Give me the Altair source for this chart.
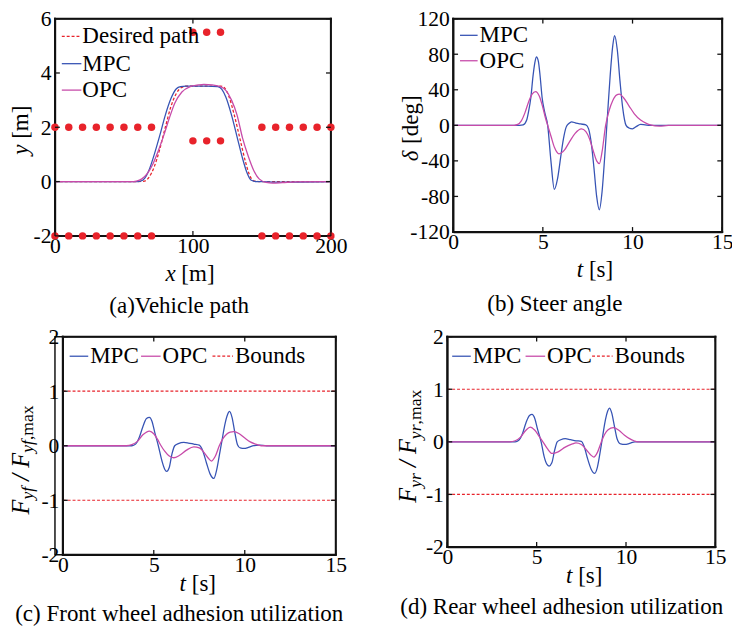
import altair as alt
import pandas as pd

SERIF = "Liberation Serif"
BLUE = "#3653b4"
MAG = "#c74aa9"
RED = "#e8232b"
FRAME = "#111111"
TXT = 23.5
TICK = 22

# ---------------- (a) Vehicle path ----------------
cone_side_x = [0, 10, 20, 30, 40, 50, 60, 70, 150, 160, 170, 180, 190, 200]
cone_side_upper_y = [2] * 14
cone_side_lower_y = [-2] * 14
cone_mid_x = [100, 110, 120]
cone_mid_upper_y = [5.5, 5.5, 5.5]
cone_mid_lower_y = [1.5, 1.5, 1.5]

desired_x = [0, 60, 65, 68, 72, 76, 80, 84, 88, 92, 96, 100, 120, 123, 126, 130, 134, 138, 141, 144, 150, 200]
desired_y = [0, 0, 0.02, 0.15, 0.55, 1.2, 2.0, 2.75, 3.25, 3.47, 3.52, 3.52, 3.52, 3.45, 3.15, 2.45, 1.6, 0.75, 0.25, 0.03, 0, 0]

mpc_path_x = [0, 58, 62, 65, 68, 72, 76, 80, 84, 88, 91, 95, 110, 118, 121, 124, 128, 132, 136, 139, 142, 146, 150, 160, 200]
mpc_path_y = [0, 0, 0.02, 0.12, 0.4, 1.0, 1.7, 2.45, 3.05, 3.42, 3.5, 3.52, 3.52, 3.5, 3.4, 3.1, 2.45, 1.65, 0.85, 0.35, 0.06, 0, 0, -0.02, 0]

opc_path_x = [0, 55, 59, 63, 67, 71, 75, 79, 83, 87, 92, 98, 104, 108, 114, 120, 124, 128, 132, 136, 140, 144, 148, 153, 158, 165, 175, 200]
opc_path_y = [0, 0, 0.02, 0.1, 0.3, 0.65, 1.15, 1.72, 2.35, 2.9, 3.3, 3.5, 3.56, 3.58, 3.56, 3.5, 3.35, 3.0, 2.45, 1.6, 0.95, 0.42, 0.1, -0.03, -0.06, -0.04, -0.01, 0]

# ---------------- (b) Steer angle ----------------
mpc_steer_t = [0, 3.7, 3.9, 4.1, 4.2, 4.33, 4.45, 4.55, 4.64, 4.75, 4.85, 4.96, 5.1, 5.27, 5.45, 5.64,
               5.82, 6.0, 6.15, 6.3, 6.45, 6.6, 6.85, 7.1, 7.4, 7.55, 7.7, 7.85, 8.0, 8.15, 8.3, 8.45,
               8.6, 8.75, 8.9, 9.0, 9.15, 9.3, 9.45, 9.64, 9.8, 10.0, 10.2, 10.45, 10.7, 11.0, 15]
mpc_steer_d = [0, 0, 0.5, 6, 15, 31, 55, 70, 77, 72, 55, 31, 15, 0, -40, -72,
               -60, -35, -15, -2, 2, 4, 2.5, 1.5, 0.5, -4, -20, -48, -80, -95, -75, -35,
               10, 55, 90, 101, 85, 50, 20, 0, -3, -4, -1.5, 1, 0.5, 0, 0]

opc_steer_t = [0, 3.4, 3.6, 3.8, 4.0, 4.2, 4.4, 4.6, 4.8, 5.0, 5.15, 5.27, 5.45, 5.65, 5.9, 6.2, 6.5,
               6.8, 7.15, 7.4, 7.6, 7.8, 8.0, 8.15, 8.3, 8.5, 8.7, 8.9, 9.1, 9.27, 9.5, 9.8, 10.1,
               10.45, 10.8, 11.0, 11.5, 12, 15]
opc_steer_d = [0, 0, 1, 5, 14, 26, 35, 38, 33, 20, 8, 0, -12, -25, -32, -28, -18,
               -9, -4, -7, -15, -28, -40, -43, -30, 0, 17, 28, 34, 35, 31, 22, 13,
               6, 2, 0.5, -1, 0, 0]

# ---------------- (c) Front wheel ----------------
mpc_front_t = [0, 3.8, 4.0, 4.2, 4.4, 4.6, 4.76, 4.9, 5.05, 5.25, 5.45, 5.6, 5.71, 5.85, 6.0, 6.15,
               6.35, 6.65, 6.9, 7.2, 7.5, 7.7, 7.9, 8.1, 8.3, 8.45, 8.6, 8.75, 8.9, 9.05, 9.16, 9.3,
               9.45, 9.6, 9.75, 9.97, 10.2, 10.5, 10.8, 11.2, 15]
mpc_front_v = [0, 0, 0.03, 0.15, 0.35, 0.5, 0.52, 0.45, 0.25, 0, -0.28, -0.43, -0.47, -0.4, -0.15, 0.0,
               0.04, 0.06, 0.05, 0.03, 0.01, -0.1, -0.32, -0.52, -0.6, -0.45, -0.18, 0.1, 0.38, 0.57, 0.63, 0.52,
               0.25, 0.02, -0.04, -0.05, -0.03, 0.0, 0.01, 0.0, 0]

opc_front_t = [0, 3.5, 3.8, 4.1, 4.4, 4.76, 5.0, 5.2, 5.4, 5.6, 5.85, 6.1, 6.4, 6.8, 7.2, 7.5, 7.8,
               8.0, 8.17, 8.4, 8.6, 8.8, 9.0, 9.2, 9.4, 9.7, 10.0, 10.3, 10.6, 10.9, 15]
opc_front_v = [0, 0, 0.02, 0.08, 0.2, 0.27, 0.22, 0.12, 0.0, -0.1, -0.19, -0.22, -0.18, -0.08, -0.02, -0.04, -0.14,
               -0.23, -0.28, -0.18, 0.0, 0.13, 0.21, 0.25, 0.26, 0.22, 0.14, 0.07, 0.03, 0.0, 0]

# ---------------- (d) Rear wheel ----------------
mpc_rear_t = [0, 3.8, 4.0, 4.2, 4.4, 4.6, 4.74, 4.9, 5.05, 5.25, 5.42, 5.58, 5.7, 5.85, 6.0, 6.15,
              6.35, 6.6, 6.9, 7.2, 7.5, 7.65, 7.85, 8.05, 8.25, 8.4, 8.55, 8.7, 8.85, 8.97, 9.07, 9.2,
              9.35, 9.5, 9.7, 9.93, 10.2, 10.5, 11.0, 15]
mpc_rear_v = [0, 0, 0.03, 0.15, 0.36, 0.5, 0.52, 0.44, 0.24, 0, -0.28, -0.43, -0.46, -0.4, -0.17, 0.0,
              0.04, 0.06, 0.04, 0.02, 0.01, -0.08, -0.32, -0.52, -0.6, -0.48, -0.2, 0.12, 0.42, 0.58, 0.64, 0.55,
              0.3, 0.06, -0.04, -0.05, -0.03, 0.0, 0.0, 0]

opc_rear_t = [0, 3.5, 3.8, 4.1, 4.4, 4.64, 4.9, 5.15, 5.35, 5.6, 5.86, 6.2, 6.6, 7.0, 7.2, 7.5, 7.8,
              8.0, 8.2, 8.4, 8.6, 8.8, 9.0, 9.29, 9.6, 9.9, 10.2, 10.45, 10.65, 15]
opc_rear_v = [0, 0, 0.02, 0.09, 0.22, 0.28, 0.22, 0.1, 0.0, -0.13, -0.22, -0.19, -0.1, -0.04, -0.02, -0.05, -0.16,
              -0.24, -0.29, -0.2, -0.02, 0.14, 0.23, 0.27, 0.22, 0.13, 0.06, 0.02, 0.0, 0]

bound_values = [1, -1]

# ---------------- helpers ----------------
ONE = alt.Data(values=[{"k": 1}])

REG = {" ": 0.25, "[": 0.333, "]": 0.333, "m": 0.778, "s": 0.389, "d": 0.5, "e": 0.444,
       "g": 0.5, "/": 0.278, ",": 0.25, "a": 0.444, "x": 0.5}
ITA = {"x": 0.444, "y": 0.444, "t": 0.278, "F": 0.611, "f": 0.278, "r": 0.389, "/": 0.278,
       "δ": 0.5, " ": 0.25}


def w(txt, size, italic):
    tab = ITA if italic else REG
    return sum(tab.get(c, 0.5) for c in txt) * size


def composed(pieces, cx, cy, angle=0):
    total = sum(w(t, s, it) for t, s, it, sub in pieces)
    off = -total / 2
    out = []
    for t, s, it, sub in pieces:
        lead = len(t) - len(t.lstrip(" "))
        shown = t.strip(" ")
        if shown:
            out.append(
                alt.Chart(ONE).mark_text(
                    text=shown, font=SERIF, fontSize=s, fontStyle="italic" if it else "normal",
                    align="left", baseline="middle", angle=angle,
                    dx=off + w(" " * lead, s, it), dy=(8 if sub else 0), color="black",
                ).encode(x=alt.value(cx), y=alt.value(cy))
            )
        off += w(t, s, it)
    return out


def label(txt, x, y, align="left", size=TXT):
    return alt.Chart(ONE).mark_text(
        text=txt, font=SERIF, fontSize=size, align=align, baseline="middle", color="black"
    ).encode(x=alt.value(x), y=alt.value(y))


def legend_line(x1, x2, y, color, dash=None):
    kw = dict(color=color, strokeWidth=1.3)
    if dash:
        kw["strokeDash"] = dash
    return alt.Chart(ONE).mark_rule(**kw).encode(x=alt.value(x1), x2=alt.value(x2), y=alt.value(y))


def bar(x1, x2, y1, y2):
    return alt.Chart(ONE).mark_rect(color=FRAME, opacity=1).encode(
        x=alt.value(x1), x2=alt.value(x2), y=alt.value(y1), y2=alt.value(y2))


def frame(L, W, H, t=1.0):
    return [bar(L - t, W + t, -t, t), bar(L - t, W + t, H - t, H + t),
            bar(L - t, L + t, -t, H + t), bar(W - t, W + t, -t, H + t)]


def scales(xdom, ydom, xticks, yticks, W, L=0):
    ax = dict(title=None, domain=True, domainColor=FRAME, domainWidth=1.5, ticks=False, grid=False,
              labelFont=SERIF, labelFontSize=TICK, labelColor="black", labelFlush=False,
              labelOverlap=False, labelExpr="datum.value + ''")
    X = alt.X("x:Q", scale=alt.Scale(domain=xdom, nice=False, zero=False, range=[L, W]),
              axis=alt.Axis(values=xticks, labelPadding=0, **ax))
    Y = alt.Y("y:Q", scale=alt.Scale(domain=ydom, nice=False, zero=False),
              axis=alt.Axis(values=yticks, labelPadding=4, offset=-L, **ax))
    return X, Y


def inner_ticks(X, Y, xticks, yticks, W, H, L=0):
    xt = pd.DataFrame({"x": xticks})
    yt = pd.DataFrame({"y": yticks})
    r = dict(color=FRAME, strokeWidth=1.3, opacity=1)
    return [
        alt.Chart(xt).mark_rule(**r).encode(x=X, y=alt.value(H), y2=alt.value(H - 5)),
        alt.Chart(xt).mark_rule(**r).encode(x=X, y=alt.value(0), y2=alt.value(5)),
        alt.Chart(yt).mark_rule(**r).encode(y=Y, x=alt.value(L), x2=alt.value(L + 5)),
        alt.Chart(yt).mark_rule(**r).encode(y=Y, x=alt.value(W - 5), x2=alt.value(W)),
    ]


def line(xs, ys, color, X, Y, dash=None):
    kw = dict(color=color, strokeWidth=1.3, interpolate="monotone")
    if dash:
        kw["strokeDash"] = dash
    return alt.Chart(pd.DataFrame({"x": xs, "y": ys})).mark_line(**kw).encode(x=X, y=Y)


# ---------------- panel (a) ----------------
WA, HA = 282, 222
xa_dom, ya_dom = [0, 200], [-2, 6]
xa_t, ya_t = [0, 100, 200], [-2, 0, 2, 4, 6]
XA, YA = scales(xa_dom, ya_dom, xa_t, ya_t, WA)
cones = pd.DataFrame({
    "x": cone_side_x + cone_side_x + cone_mid_x + cone_mid_x,
    "y": cone_side_upper_y + cone_side_lower_y + cone_mid_upper_y + cone_mid_lower_y,
})
layers_a = [
    line(desired_x, desired_y, RED, XA, YA, dash=[3, 2]),
    line(mpc_path_x, mpc_path_y, BLUE, XA, YA),
    line(opc_path_x, opc_path_y, MAG, XA, YA),
] + frame(0, WA, HA) + [
    alt.Chart(cones).mark_circle(color=RED, size=58, opacity=1).encode(x=XA, y=YA),
] + inner_ticks(XA, YA, xa_t, ya_t, WA, HA) + [
    legend_line(7, 27, 18, RED, dash=[3, 2]), label("Desired path", 28, 18),
    legend_line(7, 27, 46, BLUE), label("MPC", 28, 46),
    legend_line(7, 27, 73, MAG), label("OPC", 28, 73),
] + composed([("x", TXT, True, False), (" [m]", TXT, False, False)], 138, 261) \
  + composed([("y", TXT, True, False), (" [m]", TXT, False, False)], -35, 114, angle=270) \
  + [label("(a)Vehicle path", 127, 294, align="center")]
pa = alt.layer(*layers_a).properties(width=WA, height=HA)

# ---------------- panel (b) ----------------
WB, HB = 275, 218
xb_dom, yb_dom = [0, 15], [-120, 120]
xb_t, yb_t = [0, 5, 10, 15], [-120, -80, -40, 0, 40, 80, 120]
XB, YB = scales(xb_dom, yb_dom, xb_t, yb_t, WB)
layers_b = [
    line(mpc_steer_t, mpc_steer_d, BLUE, XB, YB),
    line(opc_steer_t, opc_steer_d, MAG, XB, YB),
] + frame(0, WB, HB) + inner_ticks(XB, YB, xb_t, yb_t, WB, HB) + [
    legend_line(7, 25, 17, BLUE), label("MPC", 27, 17),
    legend_line(7, 25, 43, MAG), label("OPC", 27, 43),
] + composed([("t", TXT, True, False), (" [s]", TXT, False, False)], 145, 257) \
  + composed([("δ", TXT, True, False), (" [deg]", TXT, False, False)], -43, 112, angle=270) \
  + [label("(b) Steer angle", 104, 292, align="center")]
pb = alt.layer(*layers_b).properties(width=WB, height=HB)


# ---------------- panels (c), (d) ----------------
def adhesion_panel(PW, H, L, mt, mv, ot, ov, sub, caption, ytitle_x, ytitle_y, cap_x, xt_x, leg):
    W = PW + L
    xdom, ydom = [0, 15], [-2, 2]
    ticks_x, ticks_y = [0, 5, 10, 15], [-2, -1, 0, 1, 2]
    X, Y = scales(xdom, ydom, ticks_x, ticks_y, W, L)
    bnd = pd.DataFrame({"y": bound_values})
    ly = 20
    lay = [
        alt.Chart(bnd).mark_rule(color=RED, strokeWidth=1.2, strokeDash=[3, 2]).encode(
            y=Y, x=alt.value(L), x2=alt.value(W)),
        line(mt, mv, BLUE, X, Y),
        line(ot, ov, MAG, X, Y),
    ] + frame(L, W, H) + inner_ticks(X, Y, ticks_x, ticks_y, W, H, L) + [
        legend_line(L + leg[0], L + leg[0] + 19, ly, BLUE), label("MPC", L + leg[0] + 21, ly),
        legend_line(L + leg[1], L + leg[1] + 20, ly, MAG), label("OPC", L + leg[1] + 22, ly),
        legend_line(L + leg[2], L + leg[2] + 21, ly, RED, dash=[3, 2]), label("Bounds", L + leg[2] + 23, ly),
    ] + composed([("t", TXT, True, False), (" [s]", TXT, False, False)], L + xt_x, H + 30) \
      + composed([("F", 25, True, False), (sub, 18, True, True), (" / ", 25, True, False),
                  ("F", 25, True, False), (sub, 18, True, True), (",max", 18, False, True)],
                 L + ytitle_x, ytitle_y, angle=270) \
      + [label(caption, L + cap_x, H + 61, align="center")]
    return alt.layer(*lay).properties(width=W, height=H)


pc = adhesion_panel(279, 223, 8, mpc_front_t, mpc_front_v, opc_front_t, opc_front_v, "yf",
                    "(c) Front wheel adhesion utilization", -43, 126, 119, 138, [7, 80, 153])
pdd = adhesion_panel(274, 215, 0, mpc_rear_t, mpc_rear_v, opc_rear_t, opc_rear_v, "yr",
                     "(d) Rear wheel adhesion utilization", -40, 112, 117, 140, [5, 80, 148])

row1 = alt.hconcat(pa, pb, spacing=51)
row2 = alt.hconcat(pc, pdd, spacing=49)
chart = alt.vconcat(row1, row2, spacing=6).properties(
    padding={"left": 0, "top": -8, "right": -2, "bottom": 0}
).configure_view(stroke=FRAME, strokeWidth=1.5)

chart.save("out.html", embed_options={"renderer": "svg", "actions": False})
